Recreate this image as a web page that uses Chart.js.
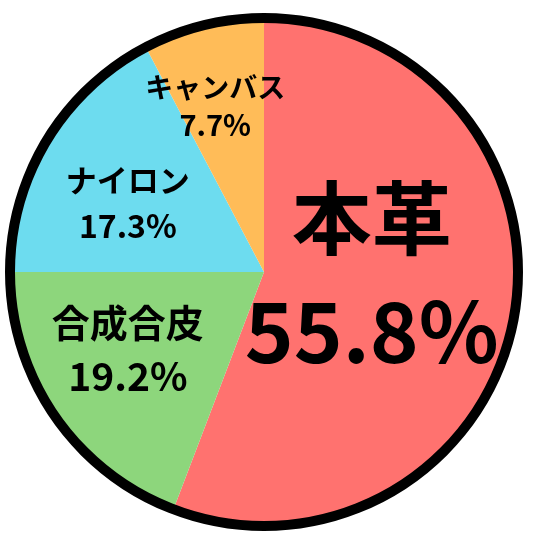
<!DOCTYPE html>
<html>
<head>
<meta charset="utf-8">
<script src="https://cdn.jsdelivr.net/npm/chart.js@4"></script>
<style>
  html, body { margin: 0; padding: 0; background: #fff; }
  #wrap { width: 548px; height: 540px; }
</style>
</head>
<body>
<div id="wrap"><canvas id="pie_canvas_id" width="548" height="540"></canvas></div>
<script>
// chart data
var materials = ['本革', '合成合皮', 'ナイロン', 'キャンバス'];
var shares = [55.8, 19.2, 17.3, 7.7];
var sliceColors = ['#ff726f', '#8dd67c', '#6ddcef', '#ffbc58'];

// label layout, offsets in units of the pie radius
var labelLayout = [
  { dx: 0.424, dy: 0.01, nameSize: 80, valueSize: 83, gap: 113 },
  { dx: -0.536, dy: 0.304, nameSize: 38, valueSize: 39, gap: 54 },
  { dx: -0.536, dy: -0.272, nameSize: 31, valueSize: 32, gap: 46 },
  { dx: -0.192, dy: -0.652, nameSize: 28, valueSize: 29, gap: 38 }
];

var FONT = '"Noto Sans CJK JP", "Noto Sans", sans-serif';

var pieLabels = {
  id: 'pieLabels',
  afterDatasetsDraw: function(chart) {
    var ctx = chart.ctx;
    var meta = chart.getDatasetMeta(0);
    var arc0 = meta.data[0];
    var cx = arc0.x, cy = arc0.y, r = arc0.outerRadius;

    // outer ring
    ctx.save();
    ctx.beginPath();
    ctx.arc(cx, cy, r, 0, Math.PI * 2);
    ctx.lineWidth = 10;
    ctx.strokeStyle = '#000';
    ctx.stroke();

    ctx.fillStyle = '#000';
    ctx.textAlign = 'center';
    ctx.textBaseline = 'middle';
    meta.data.forEach(function(arc, i) {
      var lay = labelLayout[i];
      var x = cx + lay.dx * r;
      var y = cy + lay.dy * r;
      ctx.font = 'bold ' + lay.nameSize + 'px ' + FONT;
      ctx.fillText(materials[i], x, y - lay.gap / 2);
      ctx.font = 'bold ' + lay.valueSize + 'px ' + FONT;
      ctx.fillText(shares[i].toFixed(1) + '%', x, y + lay.gap / 2);
    });
    ctx.restore();
  }
};

var ctx = document.getElementById('pie_canvas_id').getContext('2d');
var pieChart = new Chart(ctx, {
  type: 'pie',
  data: {
    labels: materials,
    datasets: [{
      data: shares,
      backgroundColor: sliceColors,
      borderWidth: 0
    }]
  },
  options: {
    responsive: false,
    animation: false,
    layout: { padding: { left: 10, right: 30, top: 18, bottom: 14 } },
    plugins: {
      legend: { display: false },
      tooltip: { enabled: false }
    }
  },
  plugins: [pieLabels]
});
</script>
</body>
</html>
